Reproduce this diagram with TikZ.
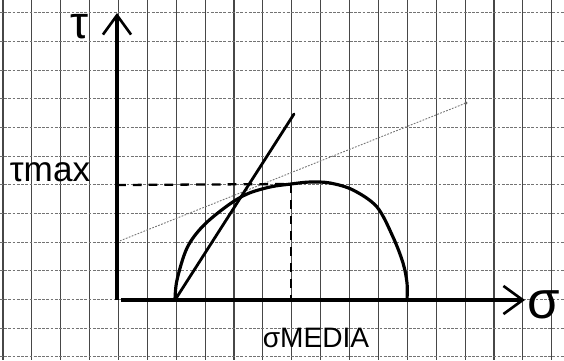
\documentclass[tikz,border=0pt]{standalone}
\usepackage{fontspec}
\setmainfont{Liberation Sans}
\usetikzlibrary{arrows.meta}
\begin{document}
\begin{tikzpicture}[x=0.02cm,y=-0.02cm,
  gridv/.style={black!72,line width=0.65pt},
  gridh/.style={black!55,line width=0.5pt,dash pattern=on 1.6pt off 0.8pt},
  axis/.style={line width=2pt,-{Straight Barb[length=11pt,width=16pt,line width=1.5pt]}},
  curve/.style={line width=1.8pt,line cap=round,line join=round},
  guide/.style={line width=1.3pt,dash pattern=on 5pt off 4pt},
  helper/.style={black!55,line width=0.5pt,dash pattern=on 1pt off 0.8pt},
  lbl/.style={inner sep=0pt}]
\useasboundingbox (0,0) rectangle (564,360);
\fill[white] (0,0) rectangle (564,360);
% grid paper
\foreach \i in {0,...,19} \draw[gridv] ({3+28.88*\i},0) -- ({3+28.88*\i},360);
\foreach \j in {0,...,12} \draw[gridh] (0,{12.7+28.67*\j}) -- (564,{12.7+28.67*\j});
% key points
\coordinate (O) at (117,300);
\coordinate (Ytop) at (117,13);
\coordinate (Xs) at (121,300);
\coordinate (Xend) at (525,300);
\coordinate (A) at (175,300);
\coordinate (P) at (291,184);
\coordinate (B) at (407,300);
\coordinate (Tend) at (294,114);
\coordinate (Hs) at (117,242);
\coordinate (He) at (466,103);
\coordinate (Ym) at (117,185);
\coordinate (Xm) at (291,300);
% helper dotted line
\draw[helper] (Hs) -- (He);
\fill[black!60] (He) circle (1.6);
% dashed guides
\draw[guide] (Ym) -- (P);
\draw[guide] (P) -- (Xm);
% axes
\draw[axis] (O) -- (Ytop);
\draw[axis] (Xs) -- (Xend);
% curve
\draw[curve] plot[smooth,tension=0.55] coordinates {(175,300) (177,280) (187,248) (203,226) (227,206) (247,194) (270,187) (291,184) (310,182) (330,183) (353,190) (377,207) (393,237) (403,263) (407,283) (407,300)};
% tangent
\draw[curve,line width=1.6pt] (A) -- (Tend);
% labels
\node[lbl,font=\fontsize{26}{26}\selectfont] (tau) at (80,27) {τ};
\node[lbl,font=\fontsize{20}{20}\selectfont] (taumax) at (50,172) {τmax};
\node[lbl,font=\fontsize{30}{30}\selectfont] (sig) at (544,305) {σ};
\node[lbl,font=\fontsize{16}{16}\selectfont] (sigmed) at (316,338) {σMEDIA};
\end{tikzpicture}
\end{document}
